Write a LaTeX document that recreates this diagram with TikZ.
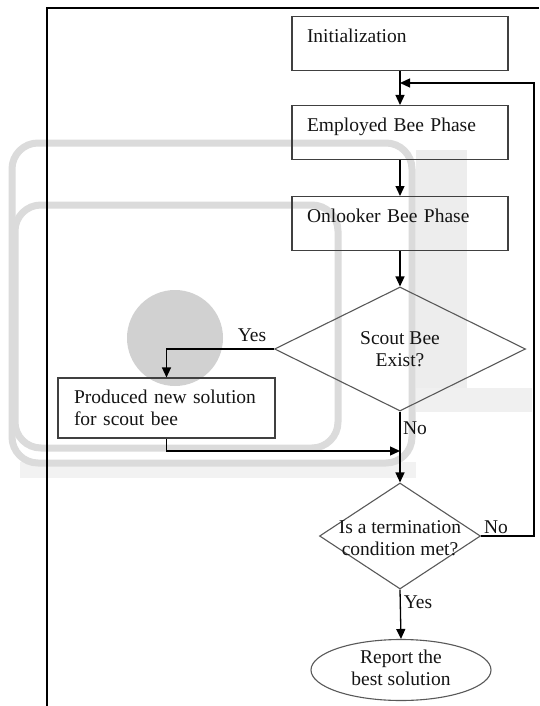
\documentclass[tikz,border=0pt]{standalone}
\usepackage{fontspec}
\setmainfont{Liberation Serif}
\usetikzlibrary{shapes.geometric,arrows.meta}
\begin{document}
\begin{tikzpicture}[x=1pt,y=-1pt,
  every node/.style={font=\fontsize{19.5}{22.5}\selectfont, text=black!92},
  box/.style={draw=black!75, line width=1.1pt, rectangle, inner ysep=0pt},
  phase/.style={box, text width=186pt, inner xsep=15pt, align=left, text height=26pt, text depth=28pt, anchor=north},
  dia/.style={diamond, draw=black!65, line width=1.1pt, inner sep=0pt, aspect=2},
  arr/.style={-{Triangle[length=10pt,width=9pt]}, line width=1.3pt},
  lbl/.style={inner sep=0pt},
  wm/.style={draw=gray!28, line width=7pt, rounded corners=26pt},
  frame/.style={line width=2pt}
]
\useasboundingbox (0,0) rectangle (539,706);
\fill[white] (0,0) rectangle (539,706);
% watermark
\fill[gray!14] (416,150) rectangle (467,388);
\fill[gray!12] (416,388) rectangle (532,412);
\fill[gray!10] (20,462) rectangle (416,478);
\draw[wm] (12,143) rectangle (412,463);
\draw[wm] (15,205) rectangle (338,448);
\fill[gray!36] (175,338) circle (48);
% frame
\draw[frame] (47,706) -- (47,8) -- (539,8);
% nodes
\node[phase] (init) at (400,16) {Initialization};
\node[phase] (emp) at (400,105) {Employed Bee Phase};
\node[phase] (onl) at (400,196) {Onlooker Bee Phase};
\node[dia, minimum width=251pt, minimum height=124pt, align=center] (d1) at (400,349) {Scout Bee\\Exist?};
\node[box, minimum width=217pt, minimum height=60pt, text width=185pt, inner xsep=16pt, align=left] (prod) at (166.5,408) {Produced new solution\\for scout bee};
\node[dia, minimum width=161pt, minimum height=106pt] (d2) at (400,536) {};
\node[lbl, align=center] (d2t) at (400,538) {Is a termination\\condition met?};
\node[ellipse, draw=black!65, line width=1.1pt, minimum width=180pt, minimum height=61pt, inner sep=0pt] (rep) at (401,670) {};
\node[lbl, align=center] (rept) at (401,668) {Report the\\best solution};
% labels
\node[lbl] (yes1) at (252,335) {Yes};
\node[lbl] (no1) at (415,428) {No};
\node[lbl] (no2) at (496,527) {No};
\node[lbl] (yes2) at (418,602) {Yes};
% connectors
\coordinate (merge) at (400,451);
\coordinate (rc2) at (534,83);
\coordinate (loopin) at (400,83);
\coordinate (rc1) at (534,536);
\draw[arr] (init) -- (emp);
\draw[arr] (emp) -- (onl);
\draw[arr] (onl) -- (d1);
\draw[arr] (d1.west) -| (prod.north);
\draw[arr] (prod.south) |- (merge);
\draw[arr] (d1.south) -- (d2.north);
\draw[arr] (d2.east) -- (rc1) -- (rc2) -- (loopin);
\draw[arr] (d2.south) -- (rep.north);
\end{tikzpicture}
\end{document}
